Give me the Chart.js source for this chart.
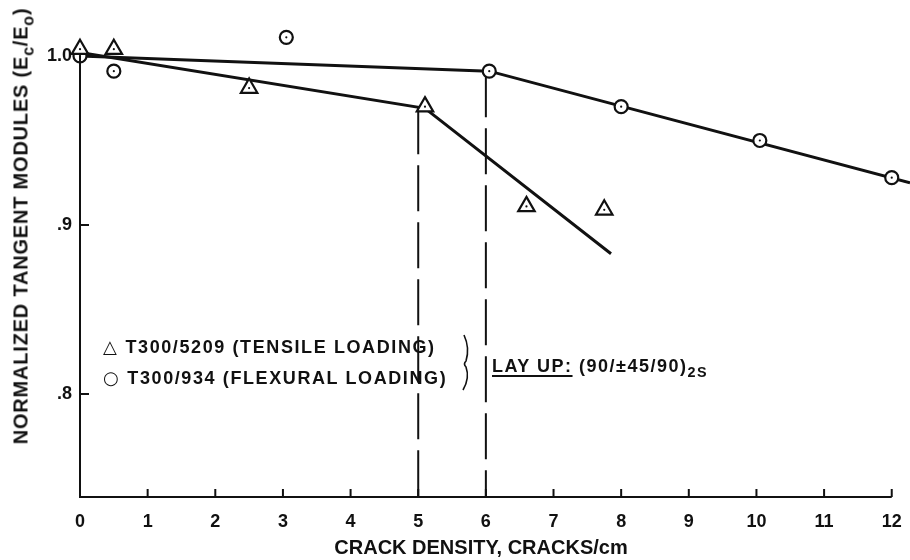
<!DOCTYPE html>
<html>
<head>
<meta charset="utf-8">
<script src="https://cdn.jsdelivr.net/npm/chart.js@4.4.1/dist/chart.umd.min.js"></script>
<style>
  html, body { margin: 0; padding: 0; background: #fff; }
  #wrap { position: relative; width: 910px; height: 560px; overflow: hidden; }
  #chart { position: absolute; left: 0; top: 0; }
  .note {
    position: absolute; white-space: nowrap; color: #111;
    font-family: "Liberation Sans", Arial, sans-serif; font-weight: bold;
  }
  .note sub { font-size: 0.8em; vertical-align: -0.35em; line-height: 0; }
  #ytitle {
    left: 21px; top: 226px; font-size: 20px; letter-spacing: 0.8px;
    transform: translate(-50%, -50%) rotate(-90deg);
  }
  #xtitle { left: 481px; top: 547px; font-size: 20px; transform: translate(-50%, -50%); }
  .leg { font-size: 18px; letter-spacing: 1.6px; left: 103px; }
  .sym { font-family: "DejaVu Sans", sans-serif; font-weight: normal; letter-spacing: 0; margin-right: 2px; }
  #layup { left: 492px; top: 356px; font-size: 18px; letter-spacing: 1.5px; }
  #layup u { text-decoration-thickness: 2px; text-underline-offset: 3px; }
</style>
</head>
<body>
<div id="wrap">
  <canvas id="chart" width="910" height="560"></canvas>
  <div class="note" id="ytitle">NORMALIZED TANGENT MODULES (E<sub>c</sub>/E<sub>o</sub>)</div>
  <div class="note" id="xtitle">CRACK DENSITY, CRACKS/cm</div>
  <div class="note leg" style="top:336px"><span class="sym">△</span> T300/5209 (TENSILE LOADING)</div>
  <div class="note leg" style="top:367px"><span class="sym">○</span> T300/934 (FLEXURAL LOADING)</div>
  <div class="note" id="layup"><u>LAY UP:</u> (90/±45/90)<sub>2S</sub></div>
</div>
<script>
/* ---- data -------------------------------------------------------- */
const xTicks      = [0, 1, 2, 3, 4, 5, 6, 7, 8, 9, 10, 11, 12];
const yTicks      = [0.8, 0.9, 1.0];
const yTickLabels = [".8", ".9", "1.0"];

/* T300/5209, tensile loading (triangles) */
const tensileX = [0.0, 0.5, 2.5, 5.1, 6.6, 7.75];
const tensileY = [1.004, 1.004, 0.981, 0.970, 0.911, 0.909];

/* T300/934, flexural loading (circles) */
const flexX = [0.0, 0.5, 3.05, 6.05, 8.0, 10.05, 12.0];
const flexY = [1.000, 0.991, 1.011, 0.991, 0.970, 0.950, 0.928];

/* hand-drawn trend lines */
const tensileFitX = [0.0, 5.1, 7.85];
const tensileFitY = [1.002, 0.969, 0.883];
const flexFitX    = [0.0, 6.05, 12.27];
const flexFitY    = [1.000, 0.991, 0.925];

/* dashed drop lines at the knees */
const dropX   = [5.0, 6.0];
const dropTop = [0.969, 0.991];

const X_MIN = 0, X_MAX = 12.27;
const Y_MIN = 0.7391, Y_MAX = 1.0331;

const INK = "#111";
const pts = (xs, ys) => xs.map((x, i) => ({ x: x, y: ys[i] }));

/* ---- axis lines, inner ticks, brace ------------------------------ */
const paperAxes = {
  id: "paperAxes",
  afterDatasetsDraw(chart) {
    const { ctx, scales: { x, y } } = chart;
    const x0 = x.getPixelForValue(0), x12 = x.getPixelForValue(12);
    const yb = y.getPixelForValue(Y_MIN), y1 = y.getPixelForValue(1.0);
    ctx.save();
    ctx.strokeStyle = INK;
    ctx.lineWidth = 2;
    ctx.beginPath();
    ctx.moveTo(x0, y1); ctx.lineTo(x0, yb); ctx.lineTo(x12, yb);
    xTicks.slice(1).forEach((v) => {
      const px = x.getPixelForValue(v);
      ctx.moveTo(px, yb); ctx.lineTo(px, yb - 8);
    });
    yTicks.slice(0, 2).forEach((v) => {
      const py = y.getPixelForValue(v);
      ctx.moveTo(x0, py); ctx.lineTo(x0 + 9, py);
    });
    ctx.stroke();

    /* brace joining the two legend entries */
    ctx.lineWidth = 1.6;
    ctx.beginPath();
    ctx.moveTo(464, 335);
    ctx.quadraticCurveTo(470, 348, 466, 361);
    ctx.quadraticCurveTo(463, 364, 466, 367);
    ctx.quadraticCurveTo(470, 378, 463, 390);
    ctx.stroke();
    ctx.restore();
  },
};

const trend = (data) => ({
  type: "line", data: data, showLine: true,
  borderColor: INK, borderWidth: 3, pointRadius: 0, order: 5,
});

const drops = dropX.map((v, i) => ({
  type: "line", data: [{ x: v, y: dropTop[i] }, { x: v, y: Y_MIN }],
  showLine: true, borderColor: INK, borderWidth: 2,
  borderDash: [46, 11], pointRadius: 0, order: 6,
}));

const tickFont = { family: "Liberation Sans, Arial, sans-serif", size: 18, weight: "bold" };

new Chart(document.getElementById("chart"), {
  type: "scatter",
  data: {
    datasets: [
      trend(pts(tensileFitX, tensileFitY)),
      trend(pts(flexFitX, flexFitY)),
      ...drops,
      {
        label: "T300/5209 (TENSILE LOADING)",
        data: pts(tensileX, tensileY),
        pointStyle: "triangle", pointRadius: 9.5,
        pointBackgroundColor: "#fff", pointBorderColor: INK, pointBorderWidth: 2.2,
        clip: false, order: 1,
      },
      {
        label: "T300/934 (FLEXURAL LOADING)",
        data: pts(flexX, flexY),
        pointStyle: "circle", pointRadius: 6.5,
        pointBackgroundColor: "#fff", pointBorderColor: INK, pointBorderWidth: 2.2,
        clip: false, order: 1,
      },
      { data: pts(tensileX, tensileY), pointRadius: 1.1, pointBackgroundColor: INK, pointBorderWidth: 0, clip: false, order: 0 },
      { data: pts(flexX, flexY), pointRadius: 1.1, pointBackgroundColor: INK, pointBorderWidth: 0, clip: false, order: 0 },
    ],
  },
  options: {
    responsive: false,
    animation: false,
    devicePixelRatio: 1,
    layout: { padding: 0, autoPadding: false },
    plugins: { legend: { display: false }, tooltip: { enabled: false } },
    scales: {
      x: {
        type: "linear", min: X_MIN, max: X_MAX,
        afterBuildTicks: (s) => { s.ticks = xTicks.map((v) => ({ value: v })); },
        afterFit: (s) => { s.height = 63; s.paddingLeft = 0; s.paddingRight = 0; },
        grid: { display: false, drawTicks: false },
        border: { display: false },
        ticks: {
          autoSkip: false, maxRotation: 0, padding: 14, color: INK,
          font: tickFont, callback: (v) => String(v),
        },
      },
      y: {
        type: "linear", min: Y_MIN, max: Y_MAX,
        afterBuildTicks: (s) => { s.ticks = yTicks.map((v) => ({ value: v })); },
        afterFit: (s) => { s.width = 80; s.paddingTop = 0; s.paddingBottom = 0; },
        grid: { display: false, drawTicks: false },
        border: { display: false },
        ticks: {
          padding: 8, color: INK,
          font: tickFont, callback: (v) => yTickLabels[yTicks.indexOf(v)],
        },
      },
    },
  },
  plugins: [paperAxes],
});
</script>
</body>
</html>
